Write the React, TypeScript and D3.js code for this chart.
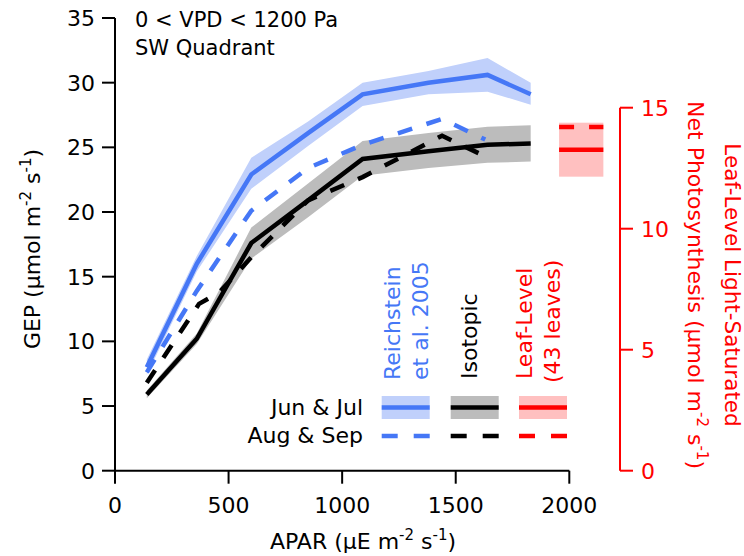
import * as d3 from "d3";

// APAR bins (µE m-2 s-1)
const aparJunJul = [140, 360, 600, 850, 1090, 1380, 1640, 1830];
const aparReichAugSep = [140, 360, 600, 850, 1090, 1440, 1630];
const aparIsoAugSep = [140, 370, 460, 600, 850, 1090, 1440, 1630];

// GEP (µmol m-2 s-1)
const reichJunJul = [8.0, 16.0, 22.9, 26.1, 29.1, 30.0, 30.6, 29.1];
const reichJunJulLo = [7.4, 15.4, 21.8, 25.1, 28.2, 29.1, 29.3, 28.3];
const reichJunJulHi = [8.6, 16.6, 24.2, 27.0, 30.0, 30.9, 31.9, 30.0];
const isoJunJul = [5.9, 10.2, 17.6, 20.9, 24.1, 24.7, 25.2, 25.3];
const isoJunJulLo = [5.6, 9.8, 16.4, 19.6, 22.8, 23.4, 23.8, 23.9];
const isoJunJulHi = [6.2, 10.6, 18.8, 22.2, 25.5, 26.1, 26.6, 26.7];
const reichAugSep = [7.6, 13.9, 20.1, 23.4, 25.2, 27.2, 25.6];
const isoAugSep = [6.8, 12.9, 13.8, 16.5, 20.9, 22.7, 25.9, 24.3];

// leaf-level light-saturated net photosynthesis (right axis)
const leafJunJul = 13.26;
const leafJunJulRange = [12.15, 14.38];
const leafAugSep = 14.2;
const leafSpan = [1955, 2150];

const xTicks = [0, 500, 1000, 1500, 2000];
const yTicks = [0, 5, 10, 15, 20, 25, 30, 35];
const yRTicks = [0, 5, 10, 15];

const BLUE = "#4577f6";
const BLUE_BAND = "#c0d0fb";
const GRAY_BAND = "#bcbcbc";
const RED = "#ff0000";
const RED_BAND = "#ffc0c0";
const FONT = "DejaVu Sans";

const W = 744;
const H = 556;

// "m-2 s-1)" with superscripts; dy in px so the baseline comes back exactly
function Units() {
  return (
    <>
      <tspan dy={-9} fontSize={15}>-2</tspan>
      <tspan dy={9}> s</tspan>
      <tspan dy={-9} fontSize={15}>-1</tspan>
      <tspan dy={9}>)</tspan>
    </>
  );
}

export default function App() {
  const x = d3.scaleLinear().domain([0, 2000]).range([115, 569.3]);
  const y = d3.scaleLinear().domain([0, 35]).range([470.7, 18]);
  const yR = d3.scaleLinear().domain([0, 15]).range([470.7, 107.7]);

  const pts = (xs: number[], ys: number[]) => xs.map((v, i) => [v, ys[i]] as [number, number]);
  const line = d3
    .line<[number, number]>()
    .x((d) => x(d[0]))
    .y((d) => y(d[1]));
  const band = (xs: number[], lo: number[], hi: number[]) =>
    d3
      .area<number>()
      .x((_, i) => x(xs[i]))
      .y0((_, i) => y(lo[i]))
      .y1((_, i) => y(hi[i]))(xs) || "";

  const lw = 4.5;
  const tick = 13;

  // legend layout
  const legCols = [381.7, 450.7, 519];
  const legW = 48;
  const legSolidY = 407.5;
  const legDashY = 436;

  return (
    <svg
      width={W}
      height={H}
      style={{ position: "absolute", left: 0, top: 0, background: "#fff" }}
      fontFamily={FONT}
    >
      {/* bands */}
      <path d={band(aparJunJul, reichJunJulLo, reichJunJulHi)} fill={BLUE_BAND} />
      <path d={band(aparJunJul, isoJunJulLo, isoJunJulHi)} fill={GRAY_BAND} />

      {/* lines */}
      <path d={line(pts(aparJunJul, reichJunJul)) || ""} fill="none" stroke={BLUE} strokeWidth={lw} />
      <path d={line(pts(aparJunJul, isoJunJul)) || ""} fill="none" stroke="#000" strokeWidth={lw} />
      <path
        d={line(pts(aparReichAugSep, reichAugSep)) || ""}
        fill="none"
        stroke={BLUE}
        strokeWidth={lw}
        strokeDasharray="15,15"
      />
      <path
        d={line(pts(aparIsoAugSep, isoAugSep)) || ""}
        fill="none"
        stroke="#000"
        strokeWidth={lw}
        strokeDasharray="15,15"
      />

      {/* leaf-level */}
      <rect
        x={x(leafSpan[0])}
        width={x(leafSpan[1]) - x(leafSpan[0])}
        y={yR(leafJunJulRange[1])}
        height={yR(leafJunJulRange[0]) - yR(leafJunJulRange[1])}
        fill={RED_BAND}
      />
      <line x1={x(leafSpan[0])} x2={x(leafSpan[1])} y1={yR(leafJunJul)} y2={yR(leafJunJul)} stroke={RED} strokeWidth={lw} />
      <line
        x1={x(leafSpan[0])}
        x2={x(leafSpan[1])}
        y1={yR(leafAugSep)}
        y2={yR(leafAugSep)}
        stroke={RED}
        strokeWidth={lw}
        strokeDasharray="15,15"
      />

      {/* left axis */}
      <line x1={x(0)} x2={x(0)} y1={y(35)} y2={y(0)} stroke="#000" strokeWidth={2} />
      {yTicks.map((t) => (
        <g key={"y" + t}>
          <line x1={x(0) - tick} x2={x(0)} y1={y(t)} y2={y(t)} stroke="#000" strokeWidth={2} />
          <text x={x(0) - tick - 7} y={y(t)} dy="0.36em" textAnchor="end" fontSize={22}>
            {t}
          </text>
        </g>
      ))}

      {/* bottom axis */}
      <line x1={x(0)} x2={x(2000)} y1={y(0)} y2={y(0)} stroke="#000" strokeWidth={2} />
      {xTicks.map((t) => (
        <g key={"x" + t}>
          <line x1={x(t)} x2={x(t)} y1={y(0)} y2={y(0) + tick} stroke="#000" strokeWidth={2} />
          <text x={x(t)} y={513} textAnchor="middle" fontSize={22}>
            {t}
          </text>
        </g>
      ))}

      {/* right axis */}
      <line x1={620} x2={620} y1={yR(15)} y2={yR(0)} stroke={RED} strokeWidth={2} />
      {yRTicks.map((t) => (
        <g key={"r" + t}>
          <line x1={620} x2={620 + tick} y1={yR(t)} y2={yR(t)} stroke={RED} strokeWidth={2} />
          <text x={620 + tick + 8} y={yR(t)} dy="0.36em" fill={RED} fontSize={22}>
            {t}
          </text>
        </g>
      ))}

      {/* axis titles */}
      <text transform="translate(40,249) rotate(-90)" textAnchor="middle" fontSize={22}>
        GEP (μmol m<Units />
      </text>
      <text x={363} y={549} textAnchor="middle" fontSize={22}>
        APAR (μE m<Units />
      </text>
      <text transform="translate(688,285) rotate(90)" textAnchor="middle" fontSize={22} fill={RED}>
        Net Photosynthesis (μmol m<Units />
      </text>
      <text transform="translate(725,285) rotate(90)" textAnchor="middle" fontSize={21.5} fill={RED}>
        Leaf-Level Light-Saturated
      </text>

      {/* annotation */}
      <text x={135} y={27} fontSize={21}>
        0 &lt; VPD &lt; 1200 Pa
      </text>
      <text x={135} y={55} fontSize={21}>
        SW Quadrant
      </text>

      {/* legend */}
      <text x={363} y={415} textAnchor="end" fontSize={22}>
        Jun &amp; Jul
      </text>
      <text x={363} y={443} textAnchor="end" fontSize={22}>
        Aug &amp; Sep
      </text>
      {[
        { c: BLUE, b: BLUE_BAND },
        { c: "#000", b: GRAY_BAND },
        { c: RED, b: RED_BAND },
      ].map((s, i) => (
        <g key={"leg" + i}>
          <rect x={legCols[i]} y={legSolidY - 11.5} width={legW} height={23} fill={s.b} />
          <line x1={legCols[i]} x2={legCols[i] + legW} y1={legSolidY} y2={legSolidY} stroke={s.c} strokeWidth={lw} />
          <line
            x1={legCols[i]}
            x2={legCols[i] + legW}
            y1={legDashY}
            y2={legDashY}
            stroke={s.c}
            strokeWidth={lw}
            strokeDasharray="16,16"
          />
        </g>
      ))}
      <text transform="translate(400,380) rotate(-90)" fontSize={22} fill={BLUE}>
        Reichstein
      </text>
      <text transform="translate(428,380) rotate(-90)" fontSize={22} fill={BLUE}>
        et al. 2005
      </text>
      <text transform="translate(477,379) rotate(-90)" fontSize={22}>
        Isotopic
      </text>
      <text transform="translate(532,379) rotate(-90)" fontSize={22} fill={RED}>
        Leaf-Level
      </text>
      <text transform="translate(560,383) rotate(-90)" fontSize={22} fill={RED}>
        (43 leaves)
      </text>
    </svg>
  );
}
